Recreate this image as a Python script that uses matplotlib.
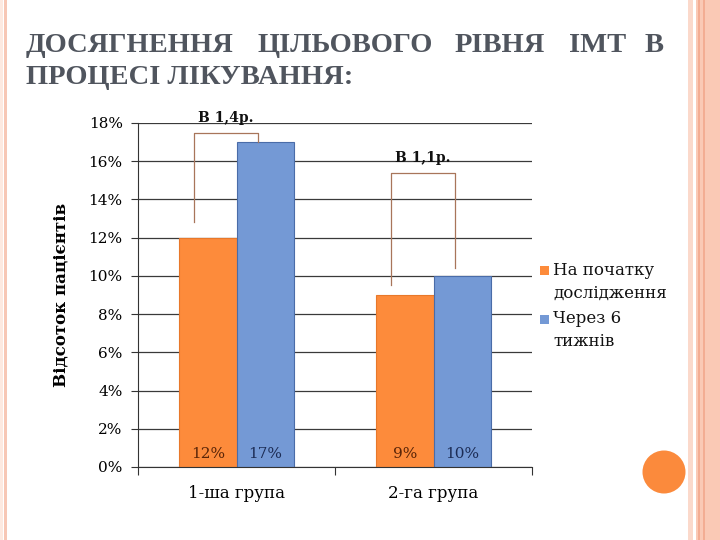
import matplotlib
matplotlib.use("Agg")
import matplotlib.pyplot as plt
from matplotlib.patches import Rectangle, Ellipse
import numpy as np

# chart data
GROUPS = ["1-ша група", "2-га група"]
SERIES = ["На початку\nдослідження", "Через 6\nтижнів"]
BEFORE = [12, 9]     # % of patients at start
AFTER = [17, 10]     # % of patients after 6 weeks
RATIO_LABELS = ["В 1,4р.", "В 1,1р."]
BRACKET_TOPS = [17.5, 15.4]
BRACKET_GAPS_LEFT = [0.8, 0.5]
BRACKET_GAPS_RIGHT = [0.0, 0.4]
Y_TICKS = [0, 2, 4, 6, 8, 10, 12, 14, 16, 18]

TITLE_WORDS = ["ДОСЯГНЕННЯ", "ЦІЛЬОВОГО", "РІВНЯ", "ІМТ", "В"]
TITLE_LINE2 = "ПРОЦЕСІ ЛІКУВАННЯ:"

ORANGE = "#fd8b3b"
BLUE = "#7499d5"
SERIF = ["DejaVu Serif"]

fig = plt.figure(figsize=(7.2, 5.4), dpi=100)
fig.patch.set_facecolor("white")

# slide decoration: stripes at the edges and an orange dot
fig.add_artist(Rectangle((0, 0), 0.004, 1, transform=fig.transFigure,
                         color="#fde9e0", lw=0))
fig.add_artist(Rectangle((0.005, 0), 0.005, 1, transform=fig.transFigure,
                         color="#f7c7b5", lw=0))
fig.add_artist(Rectangle((688 / 720, 0), 5 / 720, 1, transform=fig.transFigure,
                         color="#fbd9cb", lw=0))
fig.add_artist(Rectangle((696 / 720, 0), 24 / 720, 1, transform=fig.transFigure,
                         color="#fac9b5", lw=0))
for xp in (698, 703):
    fig.add_artist(Rectangle((xp / 720, 0), 1.5 / 720, 1, transform=fig.transFigure,
                             color="#f3ad93", lw=0))
fig.add_artist(Ellipse((664 / 720, 1 - 472 / 540), 43 / 720, 43 / 540,
                       transform=fig.transFigure, color="#fb8a3c", lw=0))

# title, justified first line
word_x = [26, 258, 455, 569, 645]
for wd, xp in zip(TITLE_WORDS, word_x):
    fig.text(xp / 720, 1 - 45 / 540, wd, fontsize=20.5, fontweight="bold",
             family="Liberation Serif", color="#50555e", va="center", ha="left")
fig.text(26 / 720, 1 - 78 / 540, TITLE_LINE2, fontsize=20.5, fontweight="bold",
         family="Liberation Serif", color="#50555e", va="center", ha="left")

ax = fig.add_axes([138 / 720, 1 - 467 / 540, 394 / 720, 344 / 540])
x = np.arange(len(GROUPS))
w = 0.29

ax.bar(x - w / 2, BEFORE, w, color=ORANGE, edgecolor="#e8782a", lw=0.8, zorder=2)
ax.bar(x + w / 2, AFTER, w, color=BLUE, edgecolor="#4a6ca8", lw=0.8, zorder=2)

for i in range(len(GROUPS)):
    ax.text(x[i] - w / 2, 0.7, f"{BEFORE[i]}%", ha="center", va="center",
            fontsize=11, family=SERIF, color="#5a2508", zorder=3)
    ax.text(x[i] + w / 2, 0.7, f"{AFTER[i]}%", ha="center", va="center",
            fontsize=11, family=SERIF, color="#1c2c55", zorder=3)

    # bracket showing the increase
    xl = x[i] - w / 2 - 0.07
    xr = x[i] + w / 2 - 0.035
    top = BRACKET_TOPS[i]
    ax.plot([xl, xl, xr, xr],
            [BEFORE[i] + BRACKET_GAPS_LEFT[i], top, top, AFTER[i] + BRACKET_GAPS_RIGHT[i]],
            color="#a8755a", lw=0.9, zorder=3, clip_on=False)
    ax.text((xl + xr) / 2, top + 0.75, RATIO_LABELS[i], ha="center", va="center",
            fontsize=10, fontweight="bold", family=SERIF, color="#111111",
            clip_on=False, zorder=4)

ax.set_xlim(-0.5, 1.5)
ax.set_ylim(0, 18)
ax.set_yticks(Y_TICKS)
ax.set_yticklabels([f"{t}%" for t in Y_TICKS], fontsize=11, family=SERIF)
ax.yaxis.grid(True, color="#3a3a3a", lw=0.9)
ax.set_axisbelow(True)

ax.set_xticks([-0.5, 0.5, 1.5])
ax.set_xticklabels([])
ax.set_xticks(x, minor=True)
ax.set_xticklabels(GROUPS, minor=True, fontsize=12, family=SERIF)
ax.tick_params(axis="x", which="minor", length=0, pad=13)
ax.tick_params(axis="x", which="major", length=6, direction="out", color="#333333")
ax.tick_params(axis="y", length=5, color="#333333", pad=6)

for s in ("top", "right"):
    ax.spines[s].set_visible(False)
ax.spines["left"].set_color("#333333")
ax.spines["bottom"].set_color("#333333")

ax.set_ylabel("Відсоток пацієнтів", fontsize=12, fontweight="bold",
              family=SERIF, labelpad=14)

# legend: square next to first line of each two-line label
for lab, col, ly in zip(SERIES, [ORANGE, BLUE], [0.570, 0.430]):
    ax.add_patch(Rectangle((1.021, ly - 0.013), 0.021, 0.026, transform=ax.transAxes,
                           color=col, clip_on=False, lw=0))
    ax.text(1.053, ly + 0.026, lab, transform=ax.transAxes, ha="left", va="top",
            fontsize=12, family=SERIF, linespacing=1.45, color="#111111")

fig.savefig("out.png", dpi=100, facecolor="white")
